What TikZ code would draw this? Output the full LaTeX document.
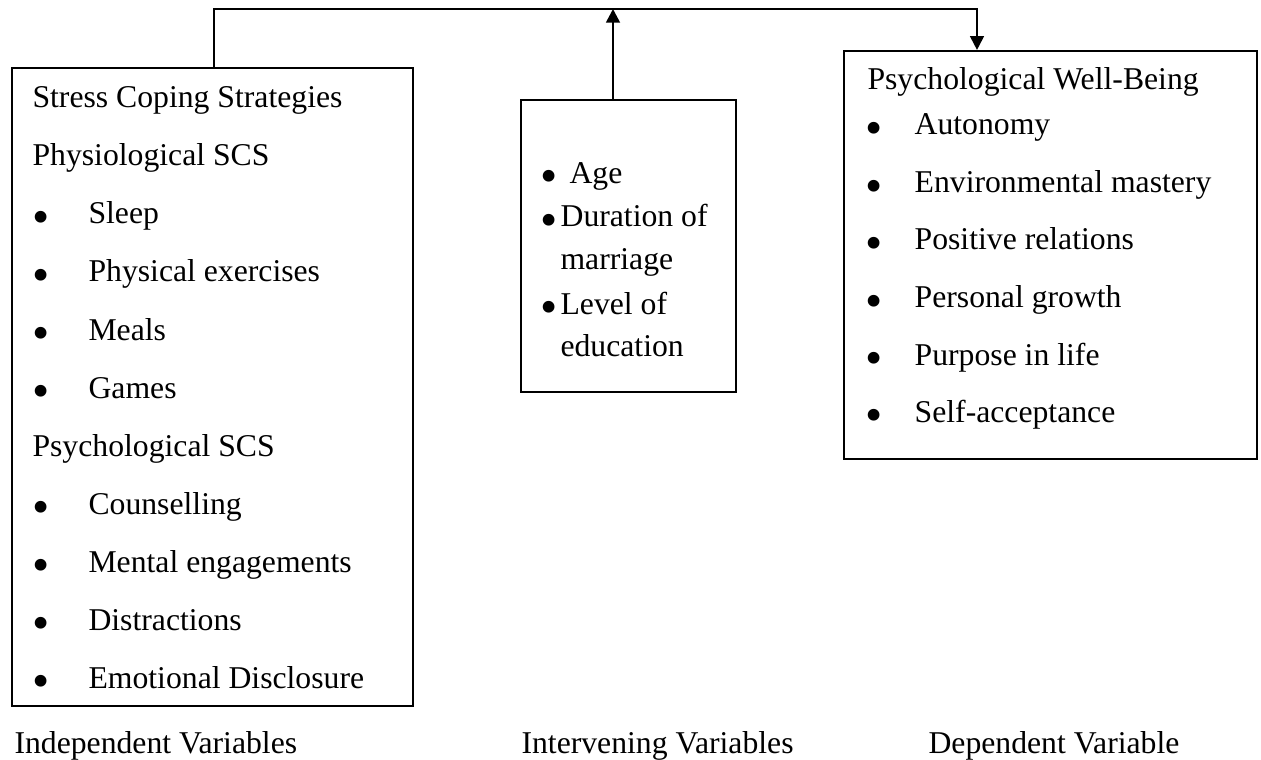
\documentclass[tikz,border=0pt]{standalone}
\usepackage{fontspec}
\setmainfont{Liberation Serif}
\usetikzlibrary{arrows.meta, fit}

\newcommand{\bul}[1]{\makebox[#1][l]{\raisebox{-3.7pt}{\scalebox{1.55}{\textbullet}}}}

\begin{document}
\begin{tikzpicture}[
    x=0.3785pt, y=-0.3785pt,
    varbox/.style={rectangle, draw, line width=0.8pt, inner sep=0pt},
    txt/.style={anchor=base west, inner sep=0pt, font=\fontsize{12}{14}\selectfont},
    arr/.style={-{Triangle[length=5.2pt, width=5.2pt]}, line width=0.7pt}
  ]
  \useasboundingbox (0,0) rectangle (1261,760);

  % the three boxes
  \node[varbox, fit={(12,68) (413,706)}] (indep) {};
  \node[varbox, fit={(521,100) (736,392)}] (interv) {};
  \node[varbox, fit={(844,51) (1257,459)}] (dep) {};

  % independent variables
  \node[txt] (scs) at (32,108) {Stress Coping Strategies};
  \node[txt] (physio) at (32,166) {Physiological SCS};
  \node[txt] (sleep) at (32,224) {\bul{21.2pt}Sleep};
  \node[txt] (exercise) at (32,282) {\bul{21.2pt}Physical exercises};
  \node[txt] (meals) at (32,340) {\bul{21.2pt}Meals};
  \node[txt] (games) at (32,398) {\bul{21.2pt}Games};
  \node[txt] (psycho) at (32,456) {Psychological SCS};
  \node[txt] (counsel) at (32,514) {\bul{21.2pt}Counselling};
  \node[txt] (mental) at (32,572) {\bul{21.2pt}Mental engagements};
  \node[txt] (distract) at (32,630) {\bul{21.2pt}Distractions};
  \node[txt] (disclose) at (32,688) {\bul{21.2pt}Emotional Disclosure};

  % intervening variables
  \node[txt] (age) at (540,183) {\bul{11pt}Age};
  \node[txt] (duration) at (540,227) {\bul{7.6pt}Duration of};
  \node[txt] (marriage) at (560,270) {marriage};
  \node[txt] (level) at (540,314) {\bul{7.6pt}Level of};
  \node[txt] (educ) at (560,357) {education};

  % dependent variable
  \node[txt] (pwb) at (867,90) {Psychological Well-Being};
  \node[txt] (autonomy) at (865,135) {\bul{18.6pt}Autonomy};
  \node[txt] (mastery) at (865,193) {\bul{18.6pt}Environmental mastery};
  \node[txt] (relations) at (865,250) {\bul{18.6pt}Positive relations};
  \node[txt] (growth) at (865,308) {\bul{18.6pt}Personal growth};
  \node[txt] (purpose) at (865,365) {\bul{18.6pt}Purpose in life};
  \node[txt] (accept) at (865,422) {\bul{18.6pt}Self-acceptance};

  % captions
  \node[txt] (indeplbl) at (14,753) {Independent Variables};
  \node[txt] (intervlbl) at (521,753) {Intervening Variables};
  \node[txt] (deplbl) at (928,753) {Dependent Variable};

  % connectors
  \coordinate (jl) at (214,9);
  \coordinate (jm) at (613,9);
  \coordinate (jr) at (977,9);
  \draw[arr] (indep.north -| jl) |- (jr) -- (dep.north -| jr);
  \draw[arr, line width=1pt] (interv.north -| jm) -- (jm);

\end{tikzpicture}
\end{document}
